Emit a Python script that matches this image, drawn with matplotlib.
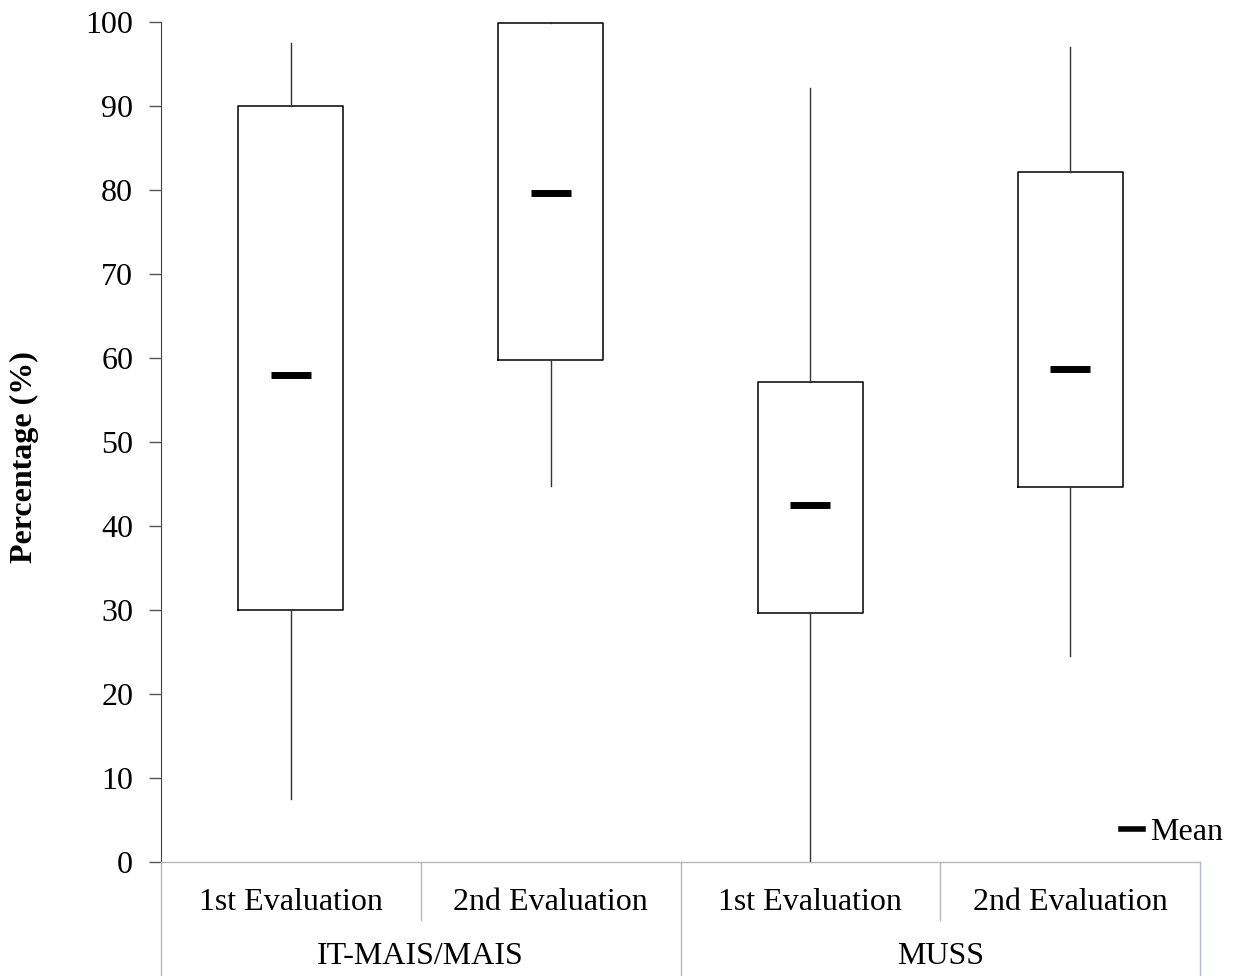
import matplotlib
matplotlib.use("Agg")
import matplotlib.pyplot as plt
from matplotlib.lines import Line2D

plt.rcParams['font.family'] = ['Liberation Serif', 'DejaVu Serif']

# Data
groups = ["IT-MAIS/MAIS", "MUSS"]
evaluations = ["1st Evaluation", "2nd Evaluation"]
whisker_low = [7.5, 44.8, 0.0, 24.5]
q1 = [30.0, 59.8, 29.7, 44.6]
q3 = [90.0, 99.9, 57.2, 82.1]
whisker_high = [97.5, 100.0, 92.2, 97.0]
means = [58.0, 79.6, 42.5, 58.7]
y_ticks = list(range(0, 101, 10))

FS = 23
W, H = 1233, 976
fig = plt.figure(figsize=(W / 100, H / 100), dpi=100)
left, right, top, bottom = 161, 1200, 22, 862
ax = fig.add_axes([left / W, 1 - bottom / H, (right - left) / W, (bottom - top) / H])

positions = list(range(len(q1)))
stats = []
for i in positions:
    stats.append(dict(med=q1[i], q1=q1[i], q3=q3[i], whislo=whisker_low[i],
                      whishi=whisker_high[i], fliers=[]))
ax.bxp(stats, positions=positions, widths=0.405, showcaps=False, showfliers=False,
       boxprops=dict(color='black', linewidth=1.1),
       whiskerprops=dict(color='#333333', linewidth=1.0),
       medianprops=dict(linewidth=0))
ax.plot(positions, means, linestyle='none', marker='_', markersize=29,
        markeredgewidth=5, color='black', zorder=5)

ax.set_xlim(-0.5, 3.5)
ax.set_ylim(0, 100)
ax.set_yticks(y_ticks)
ax.set_yticklabels([str(t) for t in y_ticks], fontsize=FS)
ax.tick_params(axis='y', direction='out', length=9, width=1, color='#555555', pad=11)
ax.tick_params(axis='x', length=0, labelbottom=False)
for s in ['top', 'right']:
    ax.spines[s].set_visible(False)
ax.spines['left'].set_color('#444444')
ax.spines['bottom'].set_color('#b0bac6')
ax.spines['bottom'].set_linewidth(1.0)

ax.set_ylabel("Percentage (%)", fontsize=FS, fontweight='bold', va='center')
ax.yaxis.set_label_coords(-0.131, 0.482)

# Category table below the axis
tr = ax.get_xaxis_transform()
tbl_color = '#b0bac6'
bottom_frac = (bottom - H) / (bottom - top)
inner_frac = (bottom - 920) / (bottom - top)
row1 = (bottom - 902) / (bottom - top)
row2 = (bottom - 956) / (bottom - top)
for xb in [-0.5, 1.5, 3.5]:
    ax.add_line(Line2D([xb, xb], [0, bottom_frac], transform=tr, color=tbl_color,
                       linewidth=1.0, clip_on=False))
for xb in [0.5, 2.5]:
    ax.add_line(Line2D([xb, xb], [0, inner_frac], transform=tr, color=tbl_color,
                       linewidth=1.0, clip_on=False))
for gi, g in enumerate(groups):
    for ei, e in enumerate(evaluations):
        ax.text(gi * 2 + ei, row1, e, transform=tr, ha='center', va='center', fontsize=FS)
    ax.text(gi * 2 + 0.5, row2, g, transform=tr, ha='center', va='center', fontsize=FS)

handle = Line2D([], [], color='black', linewidth=4.0)
ax.legend([handle], ["Mean"], loc='center right', bbox_to_anchor=(1.022, 0.035),
          frameon=False, fontsize=FS, handlelength=0.7, handletextpad=0.2,
          borderpad=0, borderaxespad=0)

fig.savefig("out.png", dpi=100)
